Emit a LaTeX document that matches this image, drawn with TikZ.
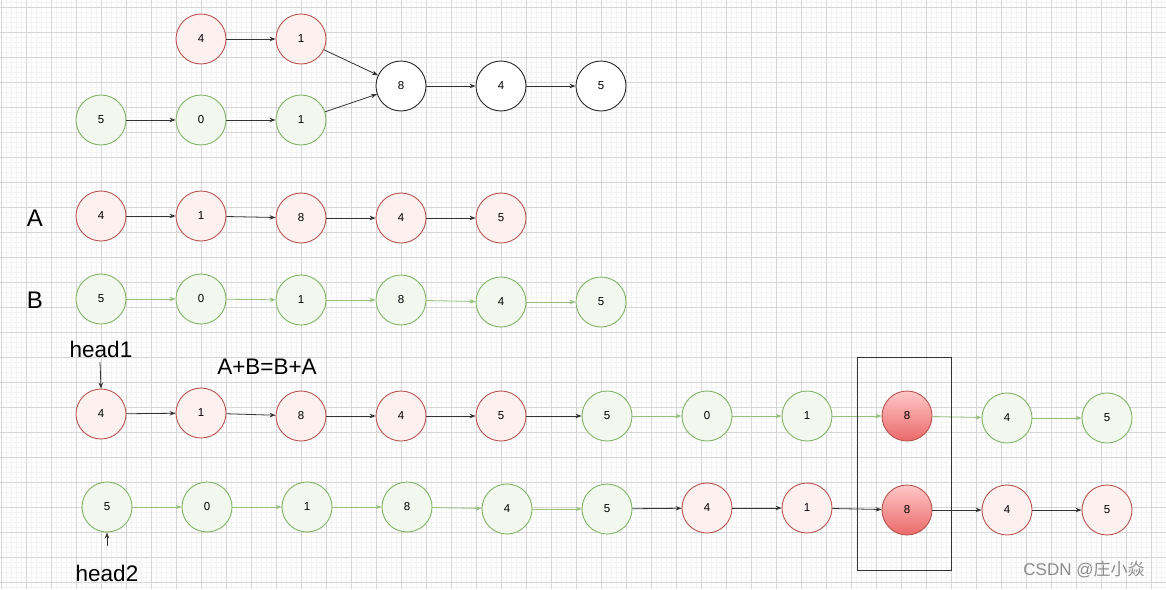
\documentclass[tikz,border=0pt]{standalone}
\usepackage{fontspec}
\setmainfont{Liberation Sans}
\newfontfamily\cjk{Noto Sans CJK SC}
\usetikzlibrary{arrows.meta, positioning}

\definecolor{redline}{HTML}{B85450}
\definecolor{redfill}{HTML}{FDF1F0}
\definecolor{greenline}{HTML}{82B366}
\definecolor{greenfill}{HTML}{F2F8EE}
\definecolor{greenarrow}{HTML}{97C07D}
\definecolor{gridmajor}{HTML}{D6D6D6}
\definecolor{gridminor}{HTML}{F3F3F3}

\begin{document}
\begin{tikzpicture}[
    x=1pt, y=-1pt,
    listnode/.style={circle, draw, line width=0.9pt, minimum size=50pt, inner sep=0pt, font=\fontsize{11.5}{13}\selectfont},
    rednode/.style={listnode, draw=redline, fill=redfill},
    greennode/.style={listnode, draw=greenline, fill=greenfill},
    plainnode/.style={listnode, draw=black!85, fill=white},
    meetnode/.style={listnode, draw=redline, top color=red!22!white, bottom color=red!55!white!92!black, shading angle=0},
    bigtext/.style={font=\fontsize{22.5}{26}\selectfont},
    line/.style={draw=black!80, line width=0.8pt, -{Stealth[length=6pt, width=4.5pt]}},
    gline/.style={line, draw=greenarrow, -{Stealth[length=6pt, width=4.5pt, fill=greenarrow]}}
]

\useasboundingbox (0,0) rectangle (1166,589);
\fill[white] (0,0) rectangle (1166,589);

% Grid
\foreach \gx in {1.7,6.7,...,1166} \draw[gridminor, line width=0.5pt] (\gx,0) -- (\gx,589);
\foreach \gy in {2.3,7.3,...,589} \draw[gridminor, line width=0.5pt] (0,\gy) -- (1166,\gy);
\foreach \gx in {1.7,26.7,...,1166} \draw[gridmajor, line width=0.8pt] (\gx,0) -- (\gx,589);
\foreach \gy in {7.3,32.3,...,589} \draw[gridmajor, line width=0.8pt] (0,\gy) -- (1166,\gy);

% Intersecting lists
\node[rednode] (ta1) at (201,39) {4};
\node[rednode] (ta2) at (301,39) {1};
\node[greennode] (tb1) at (101,120) {5};
\node[greennode] (tb2) at (201,120) {0};
\node[greennode] (tb3) at (301,120) {1};
\node[plainnode] (tc1) at (401,86) {8};
\node[plainnode] (tc2) at (501,86) {4};
\node[plainnode] (tc3) at (601,86) {5};

\path[line] (ta1) -- (ta2);
\path[line] (tb1) -- (tb2);
\path[line] (tb2) -- (tb3);
\path[line] (ta2) -- (tc1);
\path[line] (tb3) -- (tc1);
\path[line] (tc1) -- (tc2);
\path[line] (tc2) -- (tc3);

% List A
\node[bigtext, font=\fontsize{24}{28}\selectfont] (la) at (35,218) {A};
\node[rednode] (a1) at (101,216) {4};
\node[rednode] (a2) at (201,216) {1};
\node[rednode] (a3) at (301,218) {8};
\node[rednode] (a4) at (401,218) {4};
\node[rednode] (a5) at (501,218) {5};
\foreach \i/\j in {a1/a2, a2/a3, a3/a4, a4/a5}
    \path[line] (\i) -- (\j);

% List B
\node[bigtext, font=\fontsize{24}{28}\selectfont] (lb) at (35,300) {B};
\node[greennode] (b1) at (101,299) {5};
\node[greennode] (b2) at (201,299) {0};
\node[greennode] (b3) at (301,300) {1};
\node[greennode] (b4) at (401,300) {8};
\node[greennode] (b5) at (501,302) {4};
\node[greennode] (b6) at (601,302) {5};
\foreach \i/\j in {b1/b2, b2/b3, b3/b4, b4/b5, b5/b6}
    \path[gline] (\i) -- (\j);

% A+B
\node[bigtext] (eq) at (267,367) {A+B=B+A};
\node[bigtext] (h1) at (101,349) {head1};
\node[rednode] (p1) at (101,414) {4};
\node[rednode] (p2) at (201,413) {1};
\node[rednode] (p3) at (301,416) {8};
\node[rednode] (p4) at (401,416) {4};
\node[rednode] (p5) at (501,416) {5};
\node[greennode] (p6) at (607,416) {5};
\node[greennode] (p7) at (707,416) {0};
\node[greennode] (p8) at (807,416) {1};
\node[meetnode] (p9) at (907,416) {8};
\node[greennode] (p10) at (1007,418) {4};
\node[greennode] (p11) at (1107,418) {5};
\coordinate (h1tip) at (100,362);
\path[line] (h1tip) -- (p1.north);
\foreach \i/\j in {p1/p2, p2/p3, p3/p4, p4/p5, p5/p6}
    \path[line] (\i) -- (\j);
\foreach \i/\j in {p6/p7, p7/p8, p8/p9, p9/p10, p10/p11}
    \path[gline] (\i) -- (\j);

% B+A
\node[greennode] (q1) at (107,507) {5};
\node[greennode] (q2) at (207,507) {0};
\node[greennode] (q3) at (307,507) {1};
\node[greennode] (q4) at (407,507) {8};
\node[greennode] (q5) at (507,509) {4};
\node[greennode] (q6) at (607,509) {5};
\node[rednode] (q7) at (707,508) {4};
\node[rednode] (q8) at (807,508) {1};
\node[meetnode] (q9) at (907,510) {8};
\node[rednode] (q10) at (1007,510) {4};
\node[rednode] (q11) at (1107,510) {5};
\node[bigtext] (h2) at (107,573) {head2};
\coordinate (h2tail) at (107,546);
\path[line] (h2tail) -- (q1.south);
\foreach \i/\j in {q1/q2, q2/q3, q3/q4, q4/q5, q5/q6}
    \path[gline] (\i) -- (\j);
\foreach \i/\j in {q6/q7, q7/q8, q8/q9, q9/q10, q10/q11}
    \path[line] (\i) -- (\j);

% Meeting point
\node[draw=black!80, line width=1pt, minimum width=94pt, minimum height=213pt, inner sep=0pt] (meet) at (904,463.5) {};

\node[text=black!45, font=\fontsize{17}{20}\selectfont] (mark) at (1084,569) {CSDN @{\cjk 庄小焱}};

\end{tikzpicture}
\end{document}
